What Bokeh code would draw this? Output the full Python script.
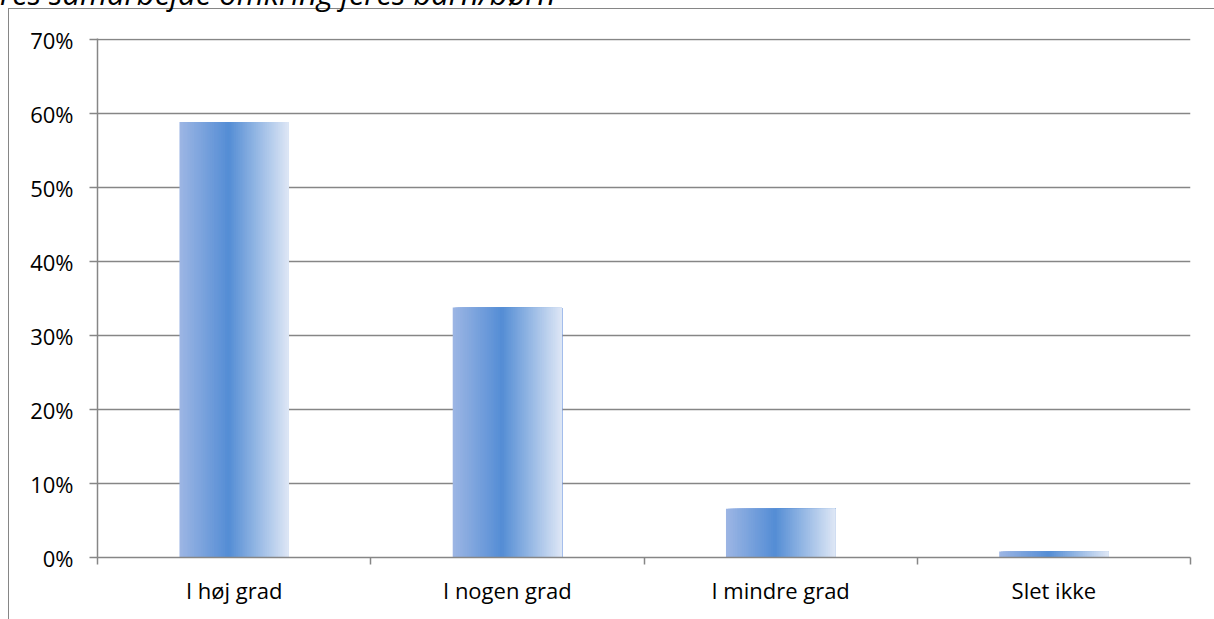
import numpy as np
from bokeh.plotting import figure
from bokeh.models import ColumnDataSource, FixedTicker, Div
from bokeh.embed import file_html
from bokeh.resources import INLINE

# ---- data ----
categories = ["I høj grad", "I nogen grad", "I mindre grad", "Slet ikke"]
values = [0.589, 0.338, 0.066, 0.008]
y_ticks = [0.0, 0.1, 0.2, 0.3, 0.4, 0.5, 0.6, 0.7]
y_tick_labels = ["0%", "10%", "20%", "30%", "40%", "50%", "60%", "70%"]
title_text = "res samarbejde omkring jeres barn/børn"

# ---- style ----
FONT = "Open Sans"
GRAY = "#868686"
BAR_W = 0.4
N_STRIPS = 60
stops = [(0.0, (157, 182, 228)), (0.45, (84, 141, 213)), (1.0, (222, 231, 245))]

def grad_color(t):
    for (t0, c0), (t1, c1) in zip(stops[:-1], stops[1:]):
        if t <= t1:
            f = (t - t0) / (t1 - t0)
            c = [round(a + (b - a) * f) for a, b in zip(c0, c1)]
            return "#%02x%02x%02x" % tuple(c)
    return "#%02x%02x%02x" % stops[-1][1]

W, H = 1214, 641
p = figure(width=W, height=H, x_range=(0, len(categories)), y_range=(0, 0.702),
           output_backend="svg", toolbar_location=None,
           min_border_left=97, min_border_right=24, min_border_top=60, min_border_bottom=62,
           margin=(-22, 0, 0, 0))
p.outline_line_color = None
p.background_fill_color = "white"
p.border_fill_color = "white"

# gradient bars as overlapping vertical strips (each reaches the bar's right edge)
lefts, rights, tops, colors = [], [], [], []
for i, v in enumerate(values):
    c = i + 0.5
    for k in range(N_STRIPS):
        lefts.append(c - BAR_W / 2 + BAR_W * k / N_STRIPS)
        rights.append(c + BAR_W / 2)
        tops.append(v)
        colors.append(grad_color((k + 0.5) / N_STRIPS))
src = ColumnDataSource(dict(left=lefts, right=rights, top=tops, bottom=[0] * len(tops), color=colors))
p.quad(left="left", right="right", top="top", bottom="bottom", fill_color="color",
       line_color=None, source=src)

# axes
p.xaxis.ticker = FixedTicker(ticks=[i + 0.5 for i in range(len(categories))],
                             minor_ticks=list(range(len(categories) + 1)))
p.xaxis.major_label_overrides = {i + 0.5: c for i, c in enumerate(categories)}
p.xaxis.major_tick_out = 0
p.xaxis.major_tick_in = 0
p.xaxis.minor_tick_out = 7
p.xaxis.minor_tick_in = 0
p.xaxis.minor_tick_line_color = GRAY
p.xaxis.minor_tick_line_width = 1.5
p.xaxis.axis_line_color = GRAY
p.xaxis.axis_line_width = 1.5
p.xaxis.major_label_standoff = 10

p.yaxis.ticker = FixedTicker(ticks=y_ticks)
p.yaxis.major_label_overrides = {t: l for t, l in zip(y_ticks, y_tick_labels)}
p.yaxis.major_tick_out = 8
p.yaxis.major_tick_in = 0
p.yaxis.minor_tick_line_color = None
p.yaxis.major_tick_line_color = GRAY
p.yaxis.major_tick_line_width = 1.5
p.yaxis.axis_line_color = GRAY
p.yaxis.axis_line_width = 1.5
p.yaxis.major_label_standoff = 16

for ax in (p.xaxis, p.yaxis):
    ax.major_label_text_font = FONT
    ax.major_label_text_font_size = "22px"
    ax.major_label_text_color = "#000000"

p.xgrid.grid_line_color = None
p.ygrid.ticker = FixedTicker(ticks=y_ticks)
p.ygrid.grid_line_color = GRAY
p.ygrid.grid_line_width = 1.5

# outer chart-area border (left and top edges visible in the crop)
border_div = Div(text="", width=1206, height=611, margin=0,
                 styles={"position": "absolute", "left": "8px", "top": "8px",
                         "border-left": "1.5px solid #868686", "border-top": "1.5px solid #868686",
                         "box-sizing": "border-box", "pointer-events": "none"})

# title, partly cut off by the top of the picture
title_div = Div(text=title_text, margin=0,
                styles={"position": "absolute", "left": "0px", "top": "-27px",
                        "font-family": "Open Sans", "font-style": "italic", "font-size": "31px",
                        "line-height": "40px", "white-space": "nowrap", "color": "#000000"})

open("out.html", "w").write(file_html([p, border_div, title_div], INLINE))
